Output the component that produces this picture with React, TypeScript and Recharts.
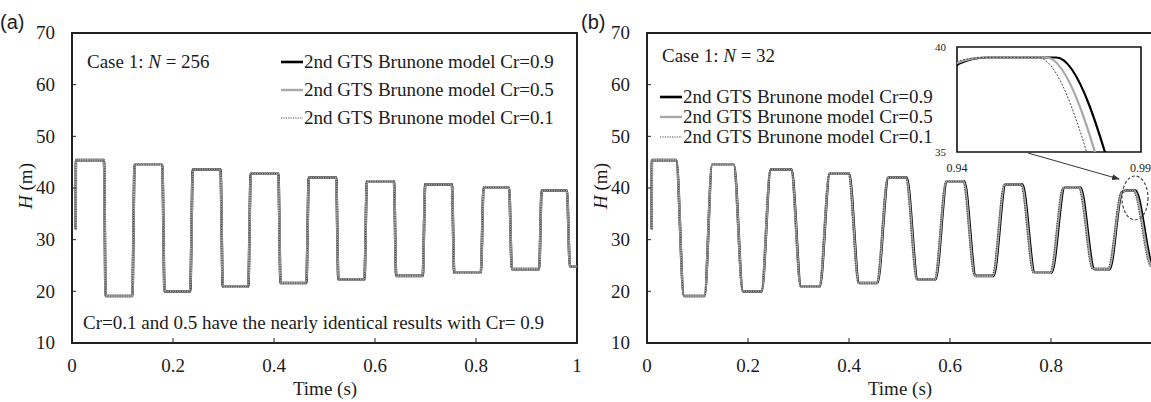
import { LineChart, Line, XAxis, YAxis, ReferenceArea } from 'recharts'

const SERIF = "'Liberation Serif', 'Times New Roman', serif"
const SANS = "'Liberation Sans', Arial, sans-serif"
const INK = '#1c1c1c'

// plateau heads (m), shared by every run
const HIGHS = [45.4, 44.5, 43.6, 42.8, 42.0, 41.3, 40.7, 40.1, 39.5]
const LOWS = [19.1, 20.0, 20.9, 21.6, 22.3, 23.0, 23.6, 24.3, 24.8]
const H_START = 32

// [leave, arrive] time (s) of each drop / rise;
// an optional [t, H] pair marks a knee inside the transition
const EDGES_N256 = [
  [0.0633, 0.0666], [0.1194, 0.124], [0.1787, 0.1833], [0.234, 0.2393],
  [0.294, 0.2986], [0.349, 0.354], [0.4085, 0.413], [0.464, 0.469],
  [0.523, 0.5275], [0.579, 0.584], [0.6375, 0.642], [0.6945, 0.6995],
  [0.7522, 0.757], [0.8096, 0.815], [0.8655, 0.871], [0.925, 0.93],
  [0.98, 0.986],
]
const EDGES_N32_CR09 = [
  [0.058, 0.073], [0.114, 0.129], [0.172, 0.19], [0.227, 0.245],
  [0.286, 0.305], [0.342, 0.362], [0.4, 0.42], [0.456, 0.478],
  [0.514, 0.536], [0.571, 0.594], [0.628, 0.651], [0.686, 0.71],
  [0.743, 0.768], [0.801, 0.827], [0.858, 0.886], [0.916, 0.948, 0.9405, 39.2],
  [0.967, 1.003],
]
const EDGES_N32_CR05 = [
  [0.058, 0.073], [0.114, 0.129], [0.1717, 0.1897], [0.2267, 0.2447],
  [0.2854, 0.3044], [0.3414, 0.3614], [0.3991, 0.4191], [0.4551, 0.4771],
  [0.5128, 0.5348], [0.5698, 0.5928], [0.6265, 0.6495], [0.6845, 0.7085],
  [0.7412, 0.7662], [0.7992, 0.8252], [0.8559, 0.8839], [0.9139, 0.9475, 0.9398, 39.22],
  [0.9643, 1.0003],
]
const EDGES_N32_CR01 = [
  [0.058, 0.073], [0.114, 0.129], [0.1715, 0.1895], [0.2264, 0.2444],
  [0.285, 0.304], [0.3409, 0.3609], [0.3984, 0.4184], [0.4543, 0.4763],
  [0.5118, 0.5338], [0.5688, 0.5918], [0.6252, 0.6482], [0.6832, 0.7072],
  [0.7397, 0.7647], [0.7976, 0.8236], [0.8541, 0.8821], [0.912, 0.947, 0.939, 39.24],
  [0.962, 0.998],
]

const Y_TICKS = [10, 20, 30, 40, 50, 60, 70]
const X_TICKS_A = [0, 0.2, 0.4, 0.6, 0.8, 1]
const X_TICKS_B = [0, 0.2, 0.4, 0.6, 0.8]
const INSET_Y_TICKS = [35, 40]

const SERIES = [
  { name: '2nd GTS Brunone model Cr=0.9', stroke: '#000000', width: 2.6, dash: undefined, insetWidth: 2.2 },
  { name: '2nd GTS Brunone model Cr=0.5', stroke: '#a8a8a8', width: 2.4, dash: undefined, insetWidth: 2.2 },
  { name: '2nd GTS Brunone model Cr=0.1', stroke: '#4a4a4a', width: 1.2, dash: '1.2 1.2', insetWidth: 1 },
]

type Pt = { t: number; h: number }

function buildTrace(start: number, edges: number[][], end: number): Pt[] {
  const levels = HIGHS.flatMap((h, i) => [h, LOWS[i]])
  const pts: Pt[] = [{ t: start, h: H_START }, { t: start + 0.0004, h: levels[0] }]
  edges.forEach(([a, b, kt, kh], i) => {
    pts.push({ t: a, h: levels[i] })
    if (kt !== undefined) pts.push({ t: kt, h: kh })
    pts.push({ t: b, h: levels[i + 1] })
  })
  pts.push({ t: end, h: levels[levels.length - 1] })
  return pts
}

const traceN256 = buildTrace(0.0073, EDGES_N256, 1)
const TRACES_A = [traceN256, traceN256, traceN256]
const TRACES_B = [
  buildTrace(0.0092, EDGES_N32_CR09, 1.04),
  buildTrace(0.0092, EDGES_N32_CR05, 1.04),
  buildTrace(0.0092, EDGES_N32_CR01, 1.04),
]

const XTick = ({ x, y, payload }: any) => (
  <text x={x} y={y} dy="0.72em" textAnchor="middle" fill={INK} fontSize={19} fontFamily={SERIF}>
    {payload.value}
  </text>
)

const YTick = ({ x, y, payload }: any) => (
  <text x={x} y={y} dy="0.34em" textAnchor="end" fill={INK} fontSize={19} fontFamily={SERIF}>
    {payload.value}
  </text>
)

const InsetTick = ({ x, y, payload }: any) => (
  <text x={x} y={y} dy="0.34em" textAnchor="end" fill={INK} fontSize={11} fontFamily={SERIF}>
    {payload.value}
  </text>
)

function Panel({ left, traces, xTicks }: { left: number; traces: Pt[][]; xTicks: number[] }) {
  return (
    <div style={{ position: 'absolute', left, top: 0 }}>
      <LineChart width={590} height={402} margin={{ top: 33, right: 13, bottom: 29, left: 0 }}>
        <XAxis
          type="number"
          dataKey="t"
          domain={[0, 1]}
          ticks={xTicks}
          interval={0}
          allowDataOverflow
          height={30}
          tickSize={-5}
          tickMargin={20}
          tick={<XTick />}
          stroke="#222"
          axisLine={{ stroke: '#222', strokeWidth: 2 }}
        />
        <YAxis
          type="number"
          domain={[10, 70]}
          ticks={Y_TICKS}
          interval={0}
          width={72}
          tickSize={-4}
          tickMargin={21}
          tick={<YTick />}
          stroke="#222"
          axisLine={{ stroke: '#222', strokeWidth: 2 }}
        />
        <ReferenceArea x1={0} x2={1} y1={10} y2={70} fill="none" stroke="#222" strokeWidth={2} />
        {SERIES.map((s, i) => (
          <Line
            key={s.name}
            data={traces[i]}
            dataKey="h"
            type="monotone"
            stroke={s.stroke}
            strokeWidth={s.width}
            strokeDasharray={s.dash}
            dot={false}
            isAnimationActive={false}
          />
        ))}
      </LineChart>
    </div>
  )
}

function Inset() {
  return (
    <div style={{ position: 'absolute', left: 930, top: 38 }}>
      <LineChart width={216} height={130} margin={{ top: 9, right: 5, bottom: 16, left: 0 }}>
        <XAxis type="number" dataKey="t" domain={[0.94, 0.99]} allowDataOverflow hide />
        <YAxis
          type="number"
          domain={[35, 40]}
          ticks={INSET_Y_TICKS}
          interval={0}
          allowDataOverflow
          width={27}
          tickLine={false}
          axisLine={false}
          tickMargin={5}
          tick={<InsetTick />}
        />
        {SERIES.map((s, i) => (
          <Line
            key={s.name}
            data={TRACES_B[i]}
            dataKey="h"
            type="monotone"
            stroke={s.stroke}
            strokeWidth={s.insetWidth}
            strokeDasharray={s.dash ? '2 1.5' : undefined}
            dot={false}
            isAnimationActive={false}
          />
        ))}
        <ReferenceArea x1={0.94} x2={0.99} y1={35} y2={40} fill="none" stroke="#111" strokeWidth={1.6} />
      </LineChart>
    </div>
  )
}

function LegendRows({ x, rows }: { x: number; rows: number[] }) {
  return (
    <>
      {SERIES.map((s, i) => (
        <div
          key={s.name}
          style={{
            position: 'absolute',
            left: x,
            top: rows[i] - 11,
            height: 22,
            lineHeight: '22px',
            display: 'flex',
            alignItems: 'center',
            whiteSpace: 'nowrap',
          }}
        >
          <svg width={22} height={6} style={{ marginRight: 1 }}>
            <line x1={0} y1={3} x2={22} y2={3} stroke={s.stroke} strokeWidth={s.width} strokeDasharray={s.dash} />
          </svg>
          <span>{s.name}</span>
        </div>
      ))}
    </>
  )
}

function Label({ x, y, children, size = 19, family = SERIF }: any) {
  return (
    <div
      style={{
        position: 'absolute',
        left: x,
        top: y - 12,
        height: 24,
        lineHeight: '24px',
        fontSize: size,
        fontFamily: family,
        whiteSpace: 'nowrap',
      }}
    >
      {children}
    </div>
  )
}

function YTitle({ x }: { x: number }) {
  return (
    <div
      style={{
        position: 'absolute',
        left: x,
        top: 186,
        transform: 'translate(-50%, -50%) rotate(-90deg)',
        whiteSpace: 'nowrap',
        fontSize: 19,
      }}
    >
      <i>H</i> (m)
    </div>
  )
}

function XTitle({ cx }: { cx: number }) {
  return (
    <div style={{ position: 'absolute', left: cx, top: 389, transform: 'translate(-50%, -50%)', fontSize: 19 }}>
      Time (s)
    </div>
  )
}

export default function App() {
  return (
    <div
      style={{
        position: 'fixed',
        left: 0,
        top: 0,
        width: 1151,
        height: 402,
        overflow: 'hidden',
        background: '#fff',
        color: INK,
        fontFamily: SERIF,
        fontSize: 19,
      }}
    >
      <Panel left={0} traces={TRACES_A} xTicks={X_TICKS_A} />
      <Panel left={575} traces={TRACES_B} xTicks={X_TICKS_B} />
      <Inset />
      <LegendRows x={281} rows={[62, 90, 118]} />
      <LegendRows x={660} rows={[97, 117, 137]} />

      <Label x={0} y={22} size={20} family={SANS}>(a)</Label>
      <Label x={581} y={22} size={20} family={SANS}>(b)</Label>

      <Label x={87} y={62}>Case 1: <i>N</i> = 256</Label>
      <Label x={662} y={56}>Case 1: <i>N</i> = 32</Label>
      <Label x={83} y={323}>Cr=0.1 and 0.5 have the nearly identical results with Cr= 0.9</Label>

      <YTitle x={26} />
      <YTitle x={601} />
      <XTitle cx={325} />
      <XTitle cx={900} />

      <svg width={1151} height={402} style={{ position: 'absolute', left: 0, top: 0, pointerEvents: 'none' }}>
        <defs>
          <marker id="head" markerWidth="8" markerHeight="6" refX="7" refY="3" orient="auto">
            <path d="M0,0 L8,3 L0,6 z" fill="#333" />
          </marker>
        </defs>
        <line x1={1028} y1={153} x2={1119} y2={179} stroke="#333" strokeWidth={1} markerEnd="url(#head)" />
        <ellipse cx={1135} cy={198} rx={13} ry={22} fill="none" stroke="#444" strokeWidth={1.2} strokeDasharray="3 2" />
        <text x={957} y={172} fontSize={12} fontFamily={SERIF} fill={INK} textAnchor="middle">0.94</text>
        <text x={1130} y={172} fontSize={12} fontFamily={SERIF} fill={INK}>0.99</text>
      </svg>
    </div>
  )
}
